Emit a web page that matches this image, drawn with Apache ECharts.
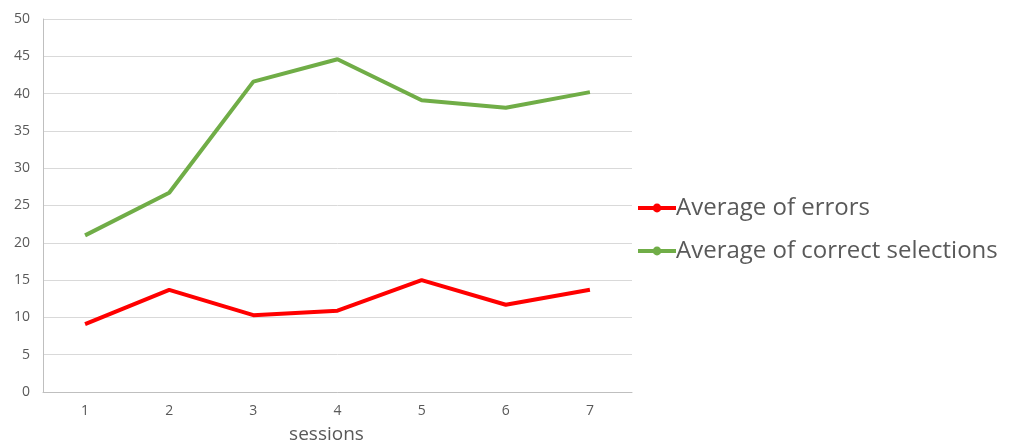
<!DOCTYPE html>
<html><head><meta charset="utf-8">
<script src="https://cdn.jsdelivr.net/npm/echarts@6/dist/echarts.min.js"></script>
<style>html,body{margin:0;padding:0;background:#fff}#c{width:1009px;height:448px}</style>
</head><body><div id="c"></div>
<script>
const categories = ['1','2','3','4','5','6','7'];
const errors = [9.1, 13.7, 10.3, 10.9, 15.0, 11.7, 13.7];
const correct = [21.0, 26.7, 41.6, 44.6, 39.1, 38.1, 40.2];
const seriesNames = ['Average of errors', 'Average of correct selections'];
const xTitle = 'sessions';

const chart = echarts.init(document.getElementById('c'));
const txt = '#595959';
chart.setOption({
  animation: false,
  grid: {left: 43, right: 377, top: 19, bottom: 56, outerBoundsMode: 'none', containLabel: false},
  legend: {
    orient: 'vertical', left: 631, top: 191, itemGap: 19,
    itemWidth: 38, itemHeight: 11,
    lineStyle: {width: 4},
    textStyle: {fontFamily: 'Open Sans', fontSize: 24, color: txt, padding: [0,0,0,-5]},
    data: seriesNames
  },
  xAxis: {
    type: 'category', data: categories, boundaryGap: true,
    name: xTitle, nameLocation: 'middle', nameGap: 33,
    nameTextStyle: {fontFamily: 'Open Sans', fontSize: 19, color: txt, padding: [0, 22, 0, 0]},
    axisLine: {lineStyle: {color: '#bfbfbf'}},
    axisTick: {show: false},
    axisLabel: {fontFamily: 'Open Sans', fontSize: 14, color: txt, margin: 12}
  },
  yAxis: {
    type: 'value', min: 0, max: 50, interval: 5,
    axisLine: {show: true, lineStyle: {color: '#bfbfbf'}},
    axisTick: {show: false},
    splitLine: {lineStyle: {color: '#d9d9d9'}},
    axisLabel: {fontFamily: 'Open Sans', fontSize: 14, color: txt, margin: 13}
  },
  series: [
    {name: seriesNames[0], type: 'line', data: errors, symbol: 'circle', symbolSize: 7, showSymbol: false,
     itemStyle: {color: '#ff0000'}, lineStyle: {color: '#ff0000', width: 4}},
    {name: seriesNames[1], type: 'line', data: correct, symbol: 'circle', symbolSize: 7, showSymbol: false,
     itemStyle: {color: '#70ad47'}, lineStyle: {color: '#70ad47', width: 4}}
  ]
});
</script></body></html>
